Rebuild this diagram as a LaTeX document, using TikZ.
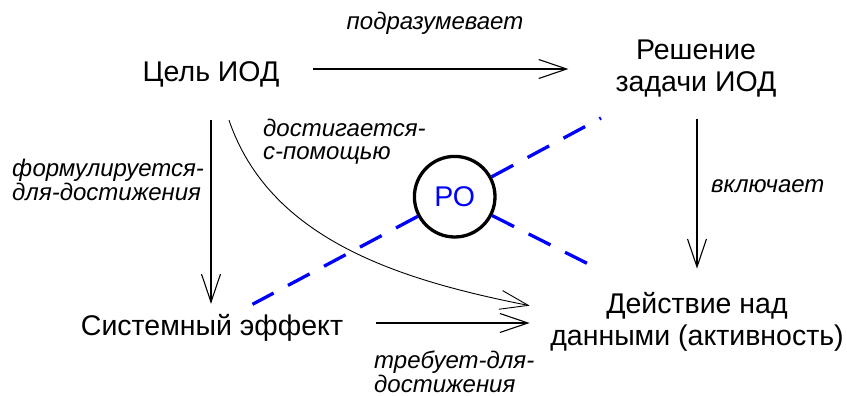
\documentclass[tikz,border=0pt]{standalone}
\usepackage{fontspec}
\setmainfont{Liberation Sans}
\usetikzlibrary{arrows.meta,calc}
\begin{document}
\begin{tikzpicture}[x=1pt,y=-1pt,
  term/.style={inner sep=0pt, font=\fontsize{28.5}{32}\selectfont},
  rel/.style={inner sep=0pt, font=\fontsize{24}{24}\selectfont\itshape, align=left},
  link/.style={draw=black, line width=1.1pt, -{Straight Barb[length=28pt,width=19pt]}},
  ray/.style={draw=blue, line width=3.3pt, dash pattern=on 24.5pt off 16.3pt},
]
\useasboundingbox (0,0) rectangle (847,396);

% concepts (multi-line nodes are placed by the baseline of their last line)
\node[term, anchor=base, text height=26pt, text depth=0pt] (goal) at (211,82) {Цель ИОД};
\node[term, align=center, anchor=base] (task) at (696,92) {Решение\\задачи ИОД};
\node[term, anchor=base, text height=24pt, text depth=0pt] (effect) at (212,335) {Системный эффект};
\node[term, align=center, anchor=base] (action) at (697,345) {Действие над\\данными (активность)};

% the circle with its rays
\node[circle, draw, line width=3.3pt, minimum size=80.6pt, inner sep=0pt,
      font=\fontsize{28.5}{32}\selectfont, text=blue] (ro) at (454.7,196.7) {РО};
\coordinate (rayA) at (601,118);
\coordinate (rayB) at (252.5,304.3);
\coordinate (rayC) at (587,263.3);
\draw[ray] (ro) -- (rayA);
\draw[ray] (ro) -- (rayB);
\draw[ray] (ro) -- (rayC);

% relation labels
\node[rel, anchor=base] (l1) at (435,30) {подразумевает};
\node[rel, anchor=base west] (l2) at (263,160) {достигается-\\с-помощью};
\node[rel, anchor=base west] (l3) at (12,200) {формулируется-\\для-достижения};
\node[rel, anchor=base west] (l4) at (711,192.7) {включает};
\node[rel, anchor=base west] (l5) at (374,392) {требует-для-\\достижения};

% relations
\draw[link, shorten <=33.7pt, shorten >=47pt] (goal.east) -- (goal.east -| task.west);
\draw[link, shorten <=38pt, shorten >=7pt] (goal.south) -- (goal.south |- effect.north);
\draw[link, line width=0.9pt] ([shift={(18,38)}]goal.south)
  .. controls (270,240) and (400,280) .. ([shift={(-20.5,14)}]action.north west);
\draw[link, shorten <=21pt, shorten >=23pt] ([xshift=1pt]task.south) -- ([xshift=1pt]task.south |- action.north);
\draw[link, shorten <=33pt, shorten >=20.5pt] (effect.east) -- (effect.east -| action.west);
\end{tikzpicture}
\end{document}
